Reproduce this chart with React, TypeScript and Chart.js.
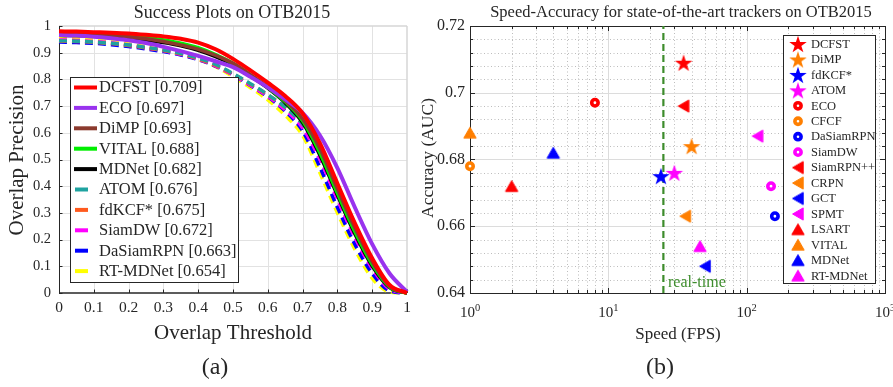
import React, { useEffect, useRef } from 'react';
import { Chart, registerables } from 'chart.js';

Chart.register(...registerables);

const SERIF = '"Liberation Serif", "Times New Roman", Times, serif';
const INK = '#262626';

// ---------------- (a) Success plots on OTB2015 ----------------
const thresholds = [0, 0.05, 0.1, 0.15, 0.2, 0.25, 0.3, 0.35, 0.4, 0.45, 0.5, 0.55, 0.6, 0.65, 0.7, 0.75, 0.8, 0.85, 0.9, 0.95, 1];
const successTrackers = ['DCFST', 'ECO', 'DiMP', 'VITAL', 'MDNet', 'ATOM', 'fdKCF*', 'SiamDW', 'DaSiamRPN', 'RT-MDNet'];
const successAuc = ['0.709', '0.697', '0.693', '0.688', '0.682', '0.676', '0.675', '0.672', '0.663', '0.654'];
const dcfstCurve = [0.980, 0.979, 0.977, 0.975, 0.972, 0.967, 0.961, 0.952, 0.938, 0.913, 0.877, 0.834, 0.788, 0.738, 0.673, 0.560, 0.410, 0.262, 0.130, 0.030, 0.000];
const ecoCurve = [0.966, 0.964, 0.960, 0.954, 0.947, 0.936, 0.922, 0.906, 0.888, 0.868, 0.846, 0.810, 0.770, 0.725, 0.675, 0.590, 0.468, 0.321, 0.183, 0.073, 0.004];
const dimpCurve = [0.973, 0.972, 0.969, 0.965, 0.960, 0.952, 0.942, 0.929, 0.913, 0.890, 0.860, 0.818, 0.772, 0.720, 0.652, 0.539, 0.389, 0.244, 0.117, 0.025, 0.000];
const vitalCurve = [0.972, 0.971, 0.970, 0.967, 0.963, 0.957, 0.948, 0.936, 0.919, 0.893, 0.860, 0.817, 0.770, 0.716, 0.645, 0.524, 0.374, 0.230, 0.107, 0.022, 0.000];
const mdnetCurve = [0.965, 0.964, 0.962, 0.958, 0.954, 0.947, 0.938, 0.926, 0.909, 0.885, 0.854, 0.812, 0.767, 0.712, 0.638, 0.515, 0.366, 0.222, 0.101, 0.020, 0.000];
const atomCurve = [0.945, 0.943, 0.940, 0.935, 0.929, 0.920, 0.910, 0.897, 0.880, 0.856, 0.822, 0.784, 0.743, 0.695, 0.632, 0.530, 0.380, 0.236, 0.111, 0.023, 0.000];
const fdkcfCurve = [0.944, 0.942, 0.939, 0.934, 0.927, 0.918, 0.908, 0.895, 0.877, 0.853, 0.820, 0.782, 0.742, 0.695, 0.636, 0.545, 0.395, 0.249, 0.120, 0.027, 0.000];
const siamdwCurve = [0.948, 0.946, 0.942, 0.937, 0.929, 0.919, 0.908, 0.894, 0.876, 0.851, 0.817, 0.778, 0.737, 0.686, 0.618, 0.500, 0.351, 0.209, 0.092, 0.015, 0.000];
const dasiamCurve = [0.940, 0.938, 0.935, 0.930, 0.923, 0.914, 0.904, 0.891, 0.874, 0.850, 0.817, 0.777, 0.735, 0.681, 0.607, 0.470, 0.321, 0.183, 0.073, 0.008, 0.000];
const rtmdnetCurve = [0.955, 0.952, 0.948, 0.941, 0.933, 0.922, 0.910, 0.895, 0.875, 0.848, 0.810, 0.769, 0.723, 0.665, 0.590, 0.449, 0.300, 0.164, 0.055, 0.004, 0.000];
const successCurves = [dcfstCurve, ecoCurve, dimpCurve, vitalCurve, mdnetCurve, atomCurve, fdkcfCurve, siamdwCurve, dasiamCurve, rtmdnetCurve];
const successColors = ['#ff0000', '#9933ee', '#8b3a2e', '#00ee00', '#000000', '#1fa3a0', '#ff5a1e', '#ff00ff', '#0000ff', '#ffff00'];
const successDashed = [false, false, false, false, false, true, true, true, true, true];
const successTicks = [0, 0.1, 0.2, 0.3, 0.4, 0.5, 0.6, 0.7, 0.8, 0.9, 1];

// ---------------- (b) Speed vs accuracy ----------------
const trackerNames = ['DCFST', 'DiMP', 'fdKCF*', 'ATOM', 'ECO', 'CFCF', 'DaSiamRPN', 'SiamDW', 'SiamRPN++', 'CRPN', 'GCT', 'SPMT', 'LSART', 'VITAL', 'MDNet', 'RT-MDNet'];
const speedFps = [35, 40, 24, 30, 8, 1, 160, 150, 35, 36, 50, 120, 2, 1, 4, 46];
const accuracyAuc = [0.709, 0.684, 0.675, 0.676, 0.697, 0.678, 0.663, 0.672, 0.696, 0.663, 0.648, 0.687, 0.672, 0.688, 0.682, 0.654];
const markerShapes = ['star', 'star', 'star', 'star', 'circle', 'circle', 'circle', 'circle', 'left', 'left', 'left', 'left', 'up', 'up', 'up', 'up'];
const markerColors = ['#ff0000', '#ff7f00', '#0000ff', '#ff00ff', '#ff0000', '#ff7f00', '#0000ff', '#ff00ff', '#ff0000', '#ff7f00', '#0000ff', '#ff00ff', '#ff0000', '#ff7f00', '#0000ff', '#ff00ff'];
const realTimeFps = 25;
const speedDecades = [1, 10, 100, 1000];
const speedExponents = ['0', '1', '2', '3'];
const accuracyTicks = [0.64, 0.66, 0.68, 0.70, 0.72];
const REALTIME_GREEN = '#3d8c2c';

function makeShape(kind: string, color: string): HTMLCanvasElement {
  const c = document.createElement('canvas');
  const size = kind === 'star' ? 22 : 16;
  c.width = size;
  c.height = size;
  const g = c.getContext('2d')!;
  g.fillStyle = color;
  g.strokeStyle = color;
  g.lineWidth = 1;
  g.beginPath();
  if (kind === 'star') {
    const R = 9.2;
    const r = R * 0.382;
    const cx = 11;
    const cy = 11 + (R - R * Math.cos(Math.PI / 5)) / 2;
    for (let i = 0; i < 10; i++) {
      const rad = i % 2 === 0 ? R : r;
      const ang = -Math.PI / 2 + (i * Math.PI) / 5;
      const px = cx + rad * Math.cos(ang);
      const py = cy + rad * Math.sin(ang);
      if (i === 0) g.moveTo(px, py);
      else g.lineTo(px, py);
    }
  } else if (kind === 'up') {
    g.moveTo(8, 2.4);
    g.lineTo(1.8, 13.2);
    g.lineTo(14.2, 13.2);
  } else if (kind === 'left') {
    g.moveTo(2.6, 8);
    g.lineTo(13.2, 1.9);
    g.lineTo(13.2, 14.1);
  }
  g.closePath();
  g.fill();
  if (kind !== 'star') g.stroke();
  return c;
}

function text(ctx: CanvasRenderingContext2D, s: string, x: number, y: number, size: number, align: CanvasTextAlign = 'center', color = INK, rotate = false) {
  ctx.save();
  ctx.font = `${size}px ${SERIF}`;
  ctx.fillStyle = color;
  ctx.textAlign = align;
  ctx.textBaseline = 'middle';
  if (rotate) {
    ctx.translate(x, y);
    ctx.rotate(-Math.PI / 2);
    ctx.fillText(s, 0, 0);
  } else {
    ctx.fillText(s, x, y);
  }
  ctx.restore();
}

function seg(ctx: CanvasRenderingContext2D, x1: number, y1: number, x2: number, y2: number) {
  ctx.beginPath();
  ctx.moveTo(x1, y1);
  ctx.lineTo(x2, y2);
  ctx.stroke();
}

const leftDecor = {
  id: 'leftDecor',
  beforeDatasetsDraw(chart: any) {
    const { ctx, chartArea: a, scales } = chart;
    const x = scales.x;
    const y = scales.y;
    ctx.save();
    ctx.strokeStyle = '#e2e2e2';
    ctx.lineWidth = 1;
    successTicks.forEach((t) => {
      if (t === 0 || t === 1) return;
      const px = Math.round(x.getPixelForValue(t)) + 0.5;
      seg(ctx, px, a.top, px, a.bottom);
      const py = Math.round(y.getPixelForValue(t)) + 0.5;
      seg(ctx, a.left, py, a.right, py);
    });
    ctx.strokeStyle = '#d6d6d6';
    ctx.lineWidth = 1.5;
    seg(ctx, a.left, a.top, a.right, a.top);
    seg(ctx, a.right, a.top, a.right, a.bottom);
    ctx.strokeStyle = INK;
    ctx.lineWidth = 1;
    seg(ctx, a.left + 0.5, a.top, a.left + 0.5, a.bottom);
    ctx.lineWidth = 1.5;
    seg(ctx, a.left, a.bottom, a.right, a.bottom);
    ctx.lineWidth = 1;
    successTicks.forEach((t) => {
      const px = Math.round(x.getPixelForValue(t)) + 0.5;
      seg(ctx, px, a.bottom, px, a.bottom - 3.5);
      const py = Math.round(y.getPixelForValue(t)) + 0.5;
      seg(ctx, a.left, py, a.left + 3.5, py);
    });
    ctx.restore();
  },
  afterDatasetsDraw(chart: any) {
    const { ctx } = chart;
    ctx.save();
    ctx.fillStyle = '#ffffff';
    ctx.fillRect(70, 77, 168, 205);
    ctx.strokeStyle = INK;
    ctx.lineWidth = 1;
    ctx.strokeRect(70.5, 77.5, 168, 205);
    successTrackers.forEach((name, i) => {
      const cy = 87.5 + i * 20.4;
      ctx.strokeStyle = successColors[i];
      ctx.lineWidth = 4;
      if (successDashed[i]) seg(ctx, 75, cy, 88, cy);
      else seg(ctx, 74, cy, 97, cy);
      text(ctx, `${name} [${successAuc[i]}]`, 99, cy + 0.5, 16.5, 'left');
    });
    ctx.restore();
  },
  afterDraw(chart: any) {
    const { ctx } = chart;
    text(ctx, 'Success Plots on OTB2015', 232, 13, 18);
    text(ctx, 'Overlap Precision', 17, 160, 21, 'center', INK, true);
    text(ctx, 'Overlap Threshold', 233, 333, 21);
    text(ctx, '(a)', 215, 368, 24);
  },
};

function makeRightDecor(shapes: any[]) {
  return {
    id: 'rightDecor',
    beforeDatasetsDraw(chart: any) {
      const { ctx, chartArea: a, scales } = chart;
      const x = scales.x;
      const y = scales.y;
      ctx.save();
      ctx.strokeStyle = '#bdbdbd';
      ctx.lineWidth = 1;
      ctx.setLineDash([1, 2.5]);
      const minorX: number[] = [];
      [1, 10, 100].forEach((d) => {
        for (let k = 2; k <= 9; k++) minorX.push(k * d);
      });
      const minorY: number[] = [];
      for (let i = 1; i < 20; i++) if (i % 5 !== 0) minorY.push(0.64 + i * 0.004);
      minorX.forEach((v) => {
        const px = Math.round(x.getPixelForValue(v)) + 0.5;
        seg(ctx, px, a.top, px, a.bottom);
      });
      minorY.forEach((v) => {
        const py = Math.round(y.getPixelForValue(v)) + 0.5;
        seg(ctx, a.left, py, a.right, py);
      });
      ctx.setLineDash([]);
      ctx.strokeStyle = '#dcdcdc';
      [10, 100].forEach((v) => {
        const px = Math.round(x.getPixelForValue(v)) + 0.5;
        seg(ctx, px, a.top, px, a.bottom);
      });
      [0.66, 0.68, 0.70].forEach((v) => {
        const py = Math.round(y.getPixelForValue(v)) + 0.5;
        seg(ctx, a.left, py, a.right, py);
      });
      ctx.strokeStyle = INK;
      ctx.lineWidth = 1;
      ctx.strokeRect(Math.round(a.left) + 0.5, Math.round(a.top) + 0.5, Math.round(a.right - a.left), Math.round(a.bottom - a.top));
      const tickX = (v: number, len: number) => {
        const px = Math.round(x.getPixelForValue(v)) + 0.5;
        seg(ctx, px, a.bottom, px, a.bottom - len);
        seg(ctx, px, a.top, px, a.top + len);
      };
      const tickY = (v: number, len: number) => {
        const py = Math.round(y.getPixelForValue(v)) + 0.5;
        seg(ctx, a.left, py, a.left + len, py);
        seg(ctx, a.right, py, a.right - len, py);
      };
      minorX.forEach((v) => tickX(v, 3));
      speedDecades.forEach((v) => tickX(v, 5));
      minorY.forEach((v) => tickY(v, 3));
      accuracyTicks.forEach((v) => tickY(v, 5));
      speedDecades.forEach((v, i) => {
        const px = x.getPixelForValue(v);
        ctx.font = `15px ${SERIF}`;
        const wb = ctx.measureText('10').width;
        ctx.font = `10.5px ${SERIF}`;
        const we = ctx.measureText(speedExponents[i]).width;
        const sx = px - (wb + we) / 2;
        ctx.fillStyle = INK;
        ctx.textAlign = 'left';
        ctx.textBaseline = 'alphabetic';
        ctx.font = `15px ${SERIF}`;
        ctx.fillText('10', sx, 317);
        ctx.font = `10.5px ${SERIF}`;
        ctx.fillText(speedExponents[i], sx + wb, 311);
      });
      ctx.restore();
    },
    afterDatasetsDraw(chart: any) {
      const { ctx } = chart;
      ctx.save();
      ctx.fillStyle = '#ffffff';
      ctx.fillRect(368, 35, 92, 248);
      ctx.strokeStyle = INK;
      ctx.lineWidth = 1;
      ctx.strokeRect(368.5, 35.5, 92, 248);
      trackerNames.forEach((name, i) => {
        const cy = 44 + i * 15.45;
        const kind = markerShapes[i];
        if (kind === 'circle') {
          ctx.beginPath();
          ctx.arc(383, cy, 3.1, 0, Math.PI * 2);
          ctx.fillStyle = '#ffffff';
          ctx.fill();
          ctx.strokeStyle = markerColors[i];
          ctx.lineWidth = 3.6;
          ctx.stroke();
        } else {
          const img = shapes[i];
          if (img && img.width) ctx.drawImage(img, 383 - img.width / 2, cy - img.height / 2);
        }
        text(ctx, name, 396, cy + 0.5, 12.5, 'left');
      });
      ctx.restore();
    },
    afterDraw(chart: any) {
      const { ctx } = chart;
      text(ctx, 'Speed-Accuracy for state-of-the-art trackers on OTB2015', 266, 13, 16.5);
      text(ctx, 'Accuracy (AUC)', 13, 158, 17.5, 'center', INK, true);
      text(ctx, 'Speed (FPS)', 263, 335, 17);
      text(ctx, '(b)', 245, 368, 24);
      text(ctx, 'real-time', 253, 283, 16, 'left', REALTIME_GREEN);
    },
  };
}

export default function App() {
  const leftRef = useRef<HTMLCanvasElement>(null);
  const rightRef = useRef<HTMLCanvasElement>(null);

  useEffect(() => {
    const fmt1 = (v: any) => `${+Number(v).toFixed(1)}`;
    const fmt2 = (v: any) => `${+Number(v).toFixed(2)}`;
    const noGrid = { display: false, drawTicks: false, tickLength: 0 };
    const left = new Chart(leftRef.current as HTMLCanvasElement, {
      type: 'line',
      data: {
        datasets: successTrackers.map((name, i) => ({
          label: `${name} [${successAuc[i]}]`,
          data: thresholds.map((t, j) => ({ x: t, y: successCurves[i][j] })),
          borderColor: successColors[i],
          backgroundColor: successColors[i],
          borderWidth: i < 2 ? 4 : 3.5,
          borderDash: successDashed[i] ? [8, 5] : [],
          pointRadius: 0,
          cubicInterpolationMode: 'monotone',
          fill: false,
          clip: false,
        })),
      },
      options: {
        responsive: false,
        animation: false,
        events: [],
        layout: { padding: { left: 0, right: 13, top: 26, bottom: 0 } },
        plugins: { legend: { display: false }, tooltip: { enabled: false }, title: { display: false } },
        scales: {
          x: {
            type: 'linear',
            min: 0,
            max: 1,
            afterBuildTicks: (s: any) => { s.ticks = successTicks.map((v) => ({ value: v })); },
            ticks: { font: { family: SERIF, size: 15.5 }, color: INK, padding: 6, maxRotation: 0, autoSkip: false, callback: fmt1 },
            grid: noGrid,
            border: { display: false },
            afterFit: (s: any) => { s.height = 94; },
          },
          y: {
            type: 'linear',
            min: 0,
            max: 1,
            afterBuildTicks: (s: any) => { s.ticks = successTicks.map((v) => ({ value: v })); },
            ticks: { font: { family: SERIF, size: 14.5 }, color: INK, padding: 8, autoSkip: false, callback: fmt1 },
            grid: noGrid,
            border: { display: false },
            afterFit: (s: any) => { s.width = 59; },
          },
        },
      } as any,
      plugins: [leftDecor],
    });

    const shapes = markerShapes.map((k, i) => (k === 'circle' ? 'circle' : makeShape(k, markerColors[i])));
    const markerSets = trackerNames.map((name, i) => {
      const isCircle = markerShapes[i] === 'circle';
      return {
        label: name,
        data: [{ x: speedFps[i], y: accuracyAuc[i] }],
        pointStyle: shapes[i],
        pointRadius: isCircle ? 3.2 : 8,
        pointBorderWidth: isCircle ? 3.6 : 0,
        pointBorderColor: markerColors[i],
        pointBackgroundColor: isCircle ? '#ffffff' : markerColors[i],
        showLine: false,
        clip: false,
      };
    });
    const right = new Chart(rightRef.current as HTMLCanvasElement, {
      type: 'scatter',
      data: {
        datasets: [
          ...markerSets,
          {
            label: 'real-time',
            data: [{ x: realTimeFps, y: 0.64 }, { x: realTimeFps, y: 0.72 }],
            showLine: true,
            borderColor: REALTIME_GREEN,
            borderWidth: 2.2,
            borderDash: [7, 4],
            pointRadius: 0,
            clip: false,
          },
        ],
      },
      options: {
        responsive: false,
        animation: false,
        events: [],
        layout: { padding: { left: 0, right: 8, top: 26, bottom: 0 } },
        plugins: { legend: { display: false }, tooltip: { enabled: false }, title: { display: false } },
        scales: {
          x: {
            type: 'logarithmic',
            min: 1,
            max: 1000,
            ticks: { display: false },
            grid: noGrid,
            border: { display: false },
            afterFit: (s: any) => { s.height = 94; },
          },
          y: {
            type: 'linear',
            min: 0.64,
            max: 0.72,
            afterBuildTicks: (s: any) => { s.ticks = accuracyTicks.map((v) => ({ value: v })); },
            ticks: { font: { family: SERIF, size: 16 }, color: INK, padding: 5, autoSkip: false, callback: fmt2 },
            grid: noGrid,
            border: { display: false },
            afterFit: (s: any) => { s.width = 55; },
          },
        },
      } as any,
      plugins: [makeRightDecor(shapes)],
    });

    return () => {
      left.destroy();
      right.destroy();
    };
  }, []);

  return (
    <div style={{ position: 'absolute', left: 0, top: 0, width: 893, height: 387, background: '#ffffff' }}>
      <canvas ref={leftRef} width={420} height={387} style={{ position: 'absolute', left: 0, top: 0, width: 420, height: 387 }} />
      <canvas ref={rightRef} width={478} height={387} style={{ position: 'absolute', left: 415, top: 0, width: 478, height: 387 }} />
    </div>
  );
}
